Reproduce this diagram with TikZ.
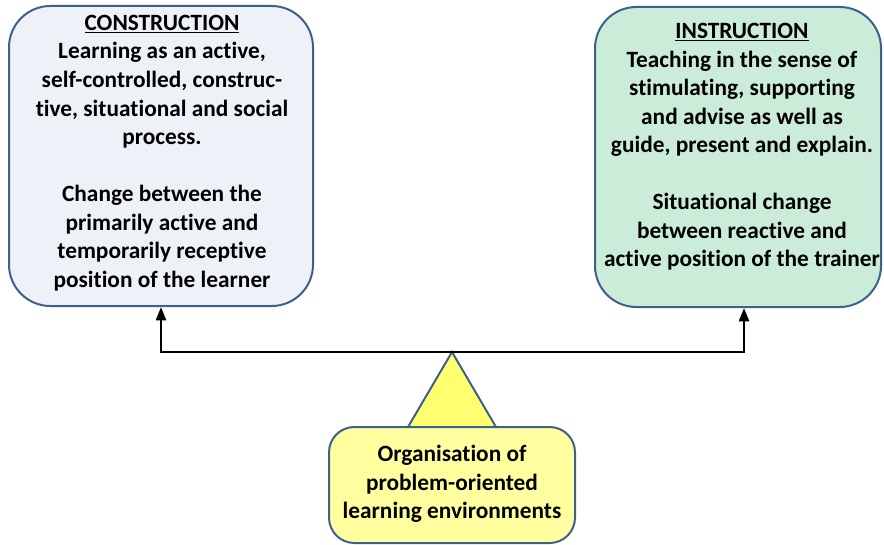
\documentclass[tikz,border=0pt]{standalone}
\usepackage{xcolor}
\usepackage{fontspec}
\setmainfont{Carlito}[Ligatures={NoCommon,NoRare,NoContextual},RawFeature={-liga;-clig;-dlig;-calt}]
\usepackage{tikz}
\usetikzlibrary{arrows.meta}

\definecolor{outline}{RGB}{62,96,140}
\definecolor{constrfill}{RGB}{238,242,248}
\definecolor{instrfill}{RGB}{202,236,216}
\definecolor{orgfill}{RGB}{255,255,160}
\definecolor{trifill}{RGB}{255,255,112}

\begin{document}
\begin{tikzpicture}[x=0.75pt,y=0.75pt,yscale=-1,xscale=1,
    box/.style={draw=outline, line width=1.5pt, inner sep=0pt},
    txt/.style={align=center, font=\fontsize{17.5}{21.4}\selectfont\bfseries},
    arr/.style={line width=1.9pt, -{Triangle[length=10pt,width=7.5pt]}}]
        \useasboundingbox (0,0) rectangle (884,545);

        \node [box, fill=constrfill, rounded corners=31pt, minimum width=228pt, minimum height=225pt] (construction) at (161,156) {};
        \node [box, fill=instrfill, rounded corners=31pt, minimum width=214.5pt, minimum height=225pt] (instruction) at (738,157) {};
        \draw [box, fill=trifill] (452,352) -- (496,427) -- (408,427) -- cycle;
        \coordinate (hub) at (452,352);
        \node [box, fill=orgfill, rounded corners=19pt, minimum width=184.5pt, minimum height=87pt] (organisation) at (452,485) {};

        \node [txt] (constrtext) at (162,153) {\underline{CONSTRUCTION}\\Learning as an active,\\self-controlled, construc-\\tive, situational and social\\process.\\[21.4pt]Change between the\\primarily active and\\temporarily receptive\\position of the learner};
        \node [txt] (instrtext) at (742,147) {\underline{INSTRUCTION}\\Teaching in the sense of\\stimulating, supporting\\and advise as well as\\guide, present and explain.\\[21.4pt]Situational change\\between reactive and\\active position of the trainer};
        \node [txt] (orgtext) at (452,484) {Organisation of\\problem-oriented\\learning environments};

        \draw [arr] (hub) -| (construction.south);
        \draw [arr] (hub) -| ([xshift=4.5pt]instruction.south);
    \end{tikzpicture}
\end{document}
